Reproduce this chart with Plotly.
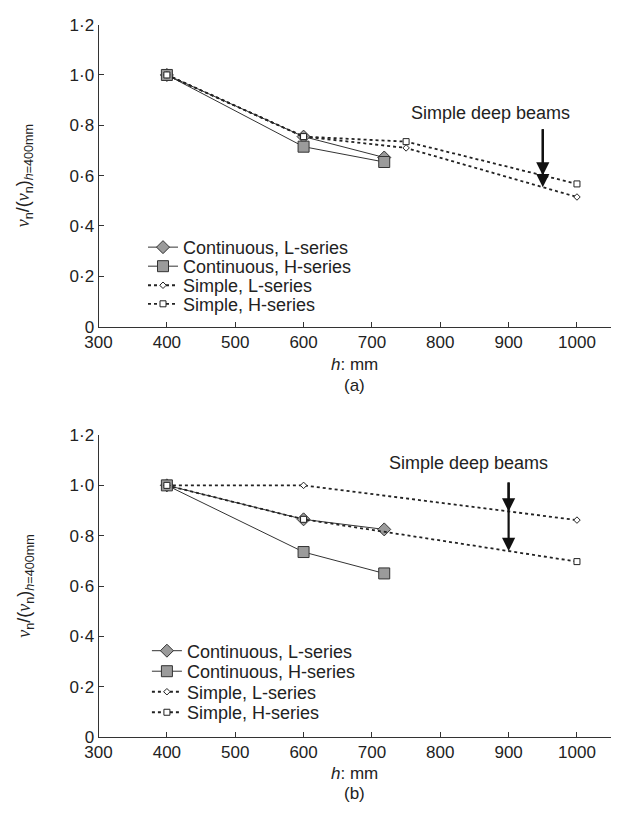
import numpy as np
import plotly.graph_objects as go

# ---- data -------------------------------------------------------------
h_cont = [400, 600, 718]

# (a)
cont_L_a = [1.0, 0.755, 0.672]
cont_H_a = [1.0, 0.715, 0.654]
h_simple_a = [400, 600, 750, 1000]
simple_L_a = [1.0, 0.755, 0.71, 0.515]
simple_H_a = [1.0, 0.755, 0.735, 0.567]

# (b)
cont_L_b = [1.0, 0.865, 0.825]
cont_H_b = [1.0, 0.735, 0.65]
h_simple_b = [400, 600, 1000]
simple_L_b = [1.0, 1.0, 0.862]
simple_H_b = [1.0, 0.865, 0.697]

x_ticks = [300, 400, 500, 600, 700, 800, 900, 1000]
y_ticks = [0, 0.2, 0.4, 0.6, 0.8, 1.0, 1.2]
y_tick_text = ["0", "0·2", "0·4", "0·6", "0·8", "1·0", "1·2"]

series_names = ["Continuous, L-series", "Continuous, H-series",
                "Simple, L-series", "Simple, H-series"]
arrow_h = {"a": 950, "b": 900}

# ---- styling ----------------------------------------------------------
W, H = 617, 832
FONT = "Liberation Sans"
INK = "#222222"
GREY_FILL = "#9b9b9b"
TXT = 18

fig = go.Figure()


def px_x(p):
    return p / W


def px_y(p):
    return 1 - p / H


# one single-entry legend per series so the rows can sit close together
legend_rows = {
    "a": dict(x=132, rows=[244, 263.5, 283, 302]),
    "b": dict(x=136, rows=[657, 678, 699, 720]),
}
legend_layout = {}
legend_counter = [0]


def next_legend(panel, row):
    legend_counter[0] += 1
    n = legend_counter[0]
    lid = "legend" if n == 1 else f"legend{n}"
    legend_layout[lid] = dict(
        x=px_x(legend_rows[panel]["x"]), y=px_y(legend_rows[panel]["rows"][row]),
        xanchor="left", yanchor="middle",
        bgcolor="rgba(0,0,0,0)", borderwidth=0,
        font=dict(family=FONT, size=TXT, color=INK),
        itemsizing="trace",
    )
    return lid


def add_panel(suffix, panel, cL, cH, hs, sL, sH):
    xa = "x" + suffix
    ya = "y" + suffix
    fig.add_trace(go.Scatter(
        x=h_cont, y=cL, name=series_names[0], xaxis=xa, yaxis=ya,
        legend=next_legend(panel, 0), mode="lines+markers",
        line=dict(color="#333333", width=1),
        marker=dict(symbol="diamond", size=10, color=GREY_FILL,
                    line=dict(color="#333333", width=1))))
    fig.add_trace(go.Scatter(
        x=h_cont, y=cH, name=series_names[1], xaxis=xa, yaxis=ya,
        legend=next_legend(panel, 1), mode="lines+markers",
        line=dict(color="#333333", width=1),
        marker=dict(symbol="square", size=11, color=GREY_FILL,
                    line=dict(color="#333333", width=1))))
    fig.add_trace(go.Scatter(
        x=hs, y=sL, name=series_names[2], xaxis=xa, yaxis=ya,
        legend=next_legend(panel, 2), mode="lines+markers",
        line=dict(color=INK, width=1.8, dash="3px,3px"),
        marker=dict(symbol="diamond", size=5, color="white",
                    line=dict(color=INK, width=1))))
    fig.add_trace(go.Scatter(
        x=hs, y=sH, name=series_names[3], xaxis=xa, yaxis=ya,
        legend=next_legend(panel, 3), mode="lines+markers",
        line=dict(color=INK, width=1.8, dash="3px,3px"),
        marker=dict(symbol="square", size=6, color="white",
                    line=dict(color=INK, width=1))))


add_panel("", "a", cont_L_a, cont_H_a, h_simple_a, simple_L_a, simple_H_a)
add_panel("2", "b", cont_L_b, cont_H_b, h_simple_b, simple_L_b, simple_H_b)

x_dom = [px_x(86.5), px_x(611)]
dom_a = [px_y(325), px_y(16)]
dom_b = [px_y(745), px_y(436)]

axis_common = dict(
    showline=True, linecolor="#333333", linewidth=1,
    ticks="inside", ticklen=5, tickcolor="#333333", tickwidth=1,
    showgrid=False, zeroline=False,
    tickfont=dict(family=FONT, size=17, color=INK),
)

fig.update_layout(
    xaxis=dict(domain=x_dom, range=[300, 1050], tickvals=x_ticks,
               anchor="y", **axis_common),
    yaxis=dict(domain=dom_a, range=[0, 1.2], tickvals=y_ticks,
               ticktext=y_tick_text, anchor="x", **axis_common),
    xaxis2=dict(domain=x_dom, range=[300, 1050], tickvals=x_ticks,
                anchor="y2", **axis_common),
    yaxis2=dict(domain=dom_b, range=[0, 1.2], tickvals=y_ticks,
                ticktext=y_tick_text, anchor="x2", **axis_common),
    **legend_layout,
)

# ---- text annotations -------------------------------------------------
ann = []
v_it = "<span style=\"font-family:'Liberation Serif'\"><i>v</i></span>"
y_title = f"{v_it}<sub>n</sub>/({v_it}<sub>n</sub>)<sub><i>h</i>=400mm</sub>"
for dom in (dom_a, dom_b):
    ann.append(dict(text=y_title, xref="paper", yref="paper",
                    x=px_x(11), y=(dom[0] + dom[1]) / 2, textangle=-90,
                    xanchor="center", yanchor="middle",
                    showarrow=False, font=dict(family=FONT, size=18, color=INK)))

x_center = (x_dom[0] + x_dom[1]) / 2
for label, ty, ly in (("a", 364, 385), ("b", 782, 803)):
    ann.append(dict(text="<i>h</i>: mm", xref="paper", yref="paper",
                    x=x_center, y=px_y(ty), xanchor="center", yanchor="middle",
                    showarrow=False, font=dict(family=FONT, size=17, color=INK)))
    ann.append(dict(text=f"({label})", xref="paper", yref="paper",
                    x=x_center, y=px_y(ly), xanchor="center", yanchor="middle",
                    showarrow=False, font=dict(family=FONT, size=17, color=INK)))

# "Simple deep beams" callouts with arrows to both simple-beam lines
panels = [
    ("x", "y", "a", h_simple_a, simple_L_a, simple_H_a, 874, 0.847, 0.79),
    ("x2", "y2", "b", h_simple_b, simple_L_b, simple_H_b, 842, 1.087, 1.017),
]
for xr, yr, key, hs, sL, sH, tx, ty, y_start in panels:
    ann.append(dict(text="Simple deep beams", xref=xr, yref=yr, x=tx, y=ty,
                    xanchor="center", yanchor="middle",
                    showarrow=False, font=dict(family=FONT, size=TXT, color=INK)))
    hx = arrow_h[key]
    for tip in (np.interp(hx, hs, sL), np.interp(hx, hs, sH)):
        ann.append(dict(text="", xref=xr, yref=yr, x=hx, y=float(tip),
                        axref=xr, ayref=yr, ax=hx, ay=y_start,
                        showarrow=True, arrowhead=2, arrowsize=1.2,
                        arrowwidth=2.2, arrowcolor="#111111", standoff=0))

fig.update_layout(
    annotations=ann,
    width=W, height=H,
    margin=dict(l=0, r=0, t=0, b=0),
    paper_bgcolor="white", plot_bgcolor="white",
    showlegend=True,
)

fig.write_html("out.html")
